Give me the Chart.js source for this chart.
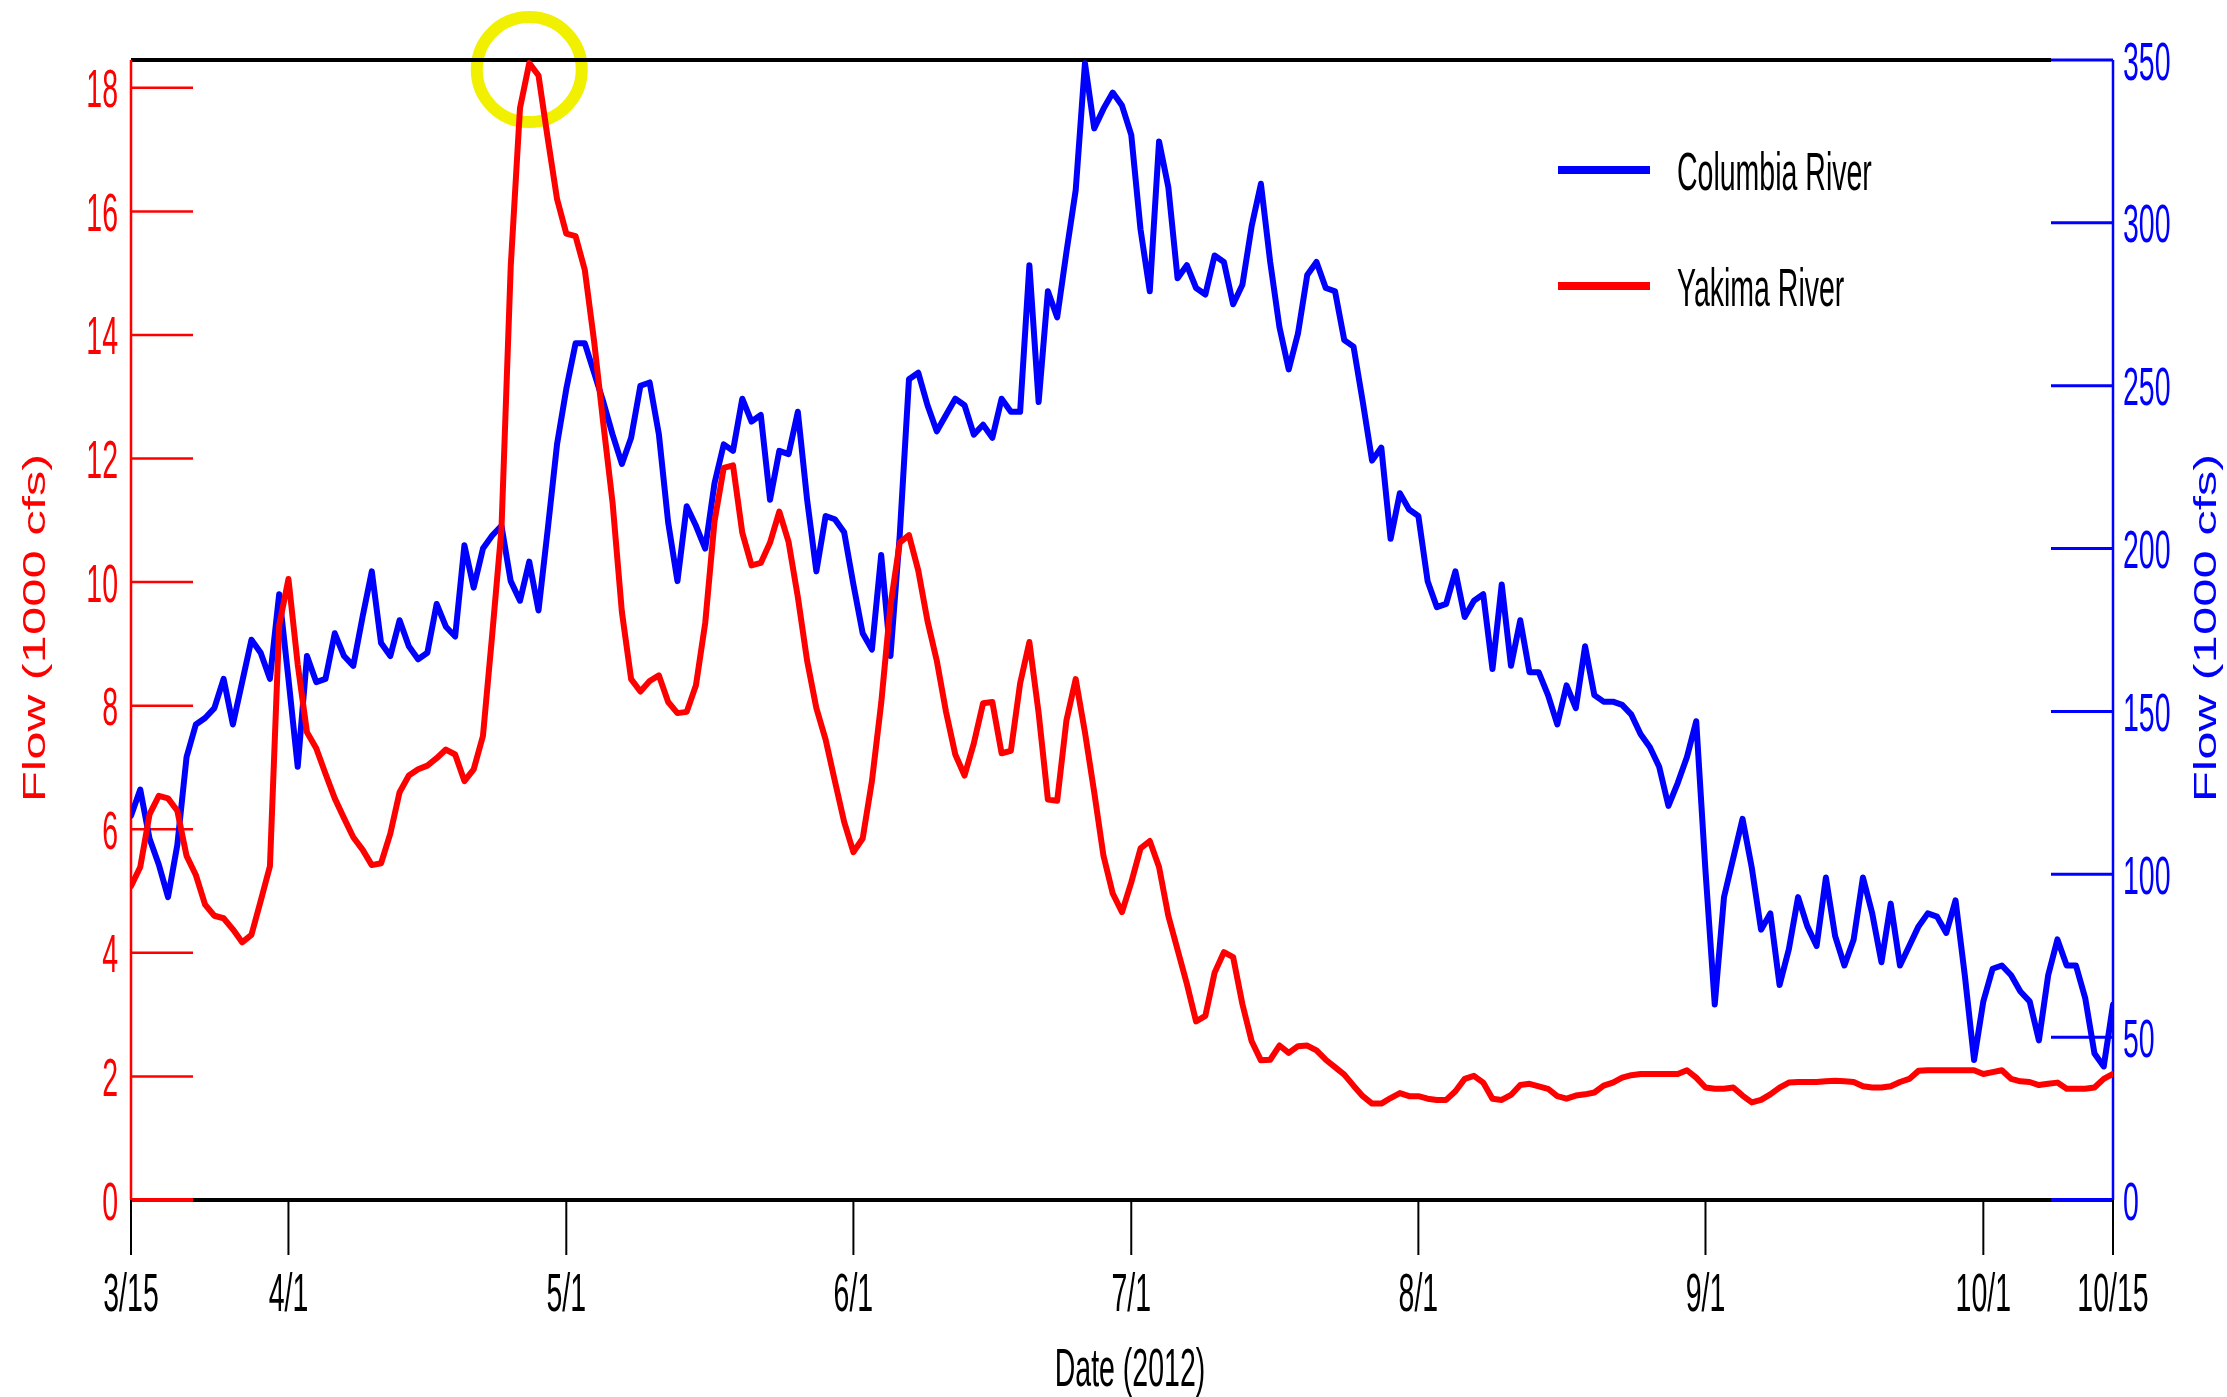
<!DOCTYPE html>
<html>
<head>
<meta charset="utf-8">
<title>Columbia and Yakima River Flow, 2012</title>
<script src="https://cdn.jsdelivr.net/npm/chart.js@4.4.1/dist/chart.umd.min.js"></script>
<style>
  html, body { margin: 0; padding: 0; background: #ffffff; }
  #wrap { width: 2227px; height: 1397px; }
  canvas { display: block; }
</style>
</head>
<body>
<div id="wrap"><canvas id="flow" width="2227" height="1397"></canvas></div>
<script>
// Daily mean flow, 15 March (day 0) to 15 October (day 214) 2012, in 1000 cfs.
const yakimaFlow = [
  5.08, 5.39, 6.24, 6.54, 6.50, 6.30, 5.57, 5.26, 4.78, 4.60,
  4.56, 4.38, 4.17, 4.29, 4.84, 5.40, 9.30, 10.05, 8.67, 7.57,
  7.31, 6.90, 6.50, 6.18, 5.87, 5.67, 5.42, 5.45, 5.93, 6.60,
  6.87, 6.97, 7.03, 7.15, 7.29, 7.21, 6.78, 6.97, 7.51, 9.15,
  10.86, 15.11, 17.67, 18.40, 18.20, 17.18, 16.20, 15.64, 15.60, 15.05,
  13.90, 12.56, 11.28, 9.52, 8.43, 8.23, 8.40, 8.49, 8.06, 7.88,
  7.90, 8.33, 9.34, 10.98, 11.85, 11.89, 10.80, 10.27, 10.31, 10.64,
  11.14, 10.65, 9.76, 8.73, 7.96, 7.45, 6.78, 6.12, 5.63, 5.85,
  6.78, 8.04, 9.62, 10.64, 10.76, 10.19, 9.37, 8.73, 7.90, 7.21,
  6.87, 7.39, 8.04, 8.06, 7.23, 7.27, 8.36, 9.03, 7.88, 6.48,
  6.46, 7.76, 8.43, 7.57, 6.60, 5.57, 4.96, 4.66, 5.14, 5.69,
  5.81, 5.39, 4.60, 4.05, 3.50, 2.89, 2.98, 3.68, 4.01, 3.93,
  3.17, 2.57, 2.26, 2.27, 2.50, 2.38, 2.49, 2.50, 2.42, 2.27,
  2.15, 2.03, 1.85, 1.68, 1.56, 1.56, 1.65, 1.73, 1.68, 1.68,
  1.64, 1.62, 1.62, 1.76, 1.96, 2.01, 1.90, 1.64, 1.62, 1.70,
  1.86, 1.88, 1.84, 1.80, 1.68, 1.64, 1.69, 1.71, 1.74, 1.85,
  1.90, 1.98, 2.02, 2.04, 2.04, 2.04, 2.04, 2.04, 2.10, 1.98,
  1.82, 1.80, 1.80, 1.82, 1.69, 1.58, 1.62, 1.71, 1.82, 1.90,
  1.91, 1.91, 1.91, 1.92, 1.93, 1.92, 1.91, 1.84, 1.82, 1.82,
  1.84, 1.91, 1.96, 2.09, 2.10, 2.10, 2.10, 2.10, 2.10, 2.10,
  2.04, 2.07, 2.10, 1.96, 1.92, 1.91, 1.86, 1.88, 1.90, 1.80,
  1.80, 1.80, 1.82, 1.96, 2.04
];

const columbiaFlow = [
  118, 126, 111, 103, 93, 109, 136, 146, 148, 151,
  160, 146, 159, 172, 168, 160, 186, 160, 133, 167,
  159, 160, 174, 167, 164, 179, 193, 171, 167, 178,
  170, 166, 168, 183, 176, 173, 201, 188, 200, 204,
  207, 190, 184, 196, 181, 206, 232, 249, 263, 263,
  254, 245, 235, 226, 234, 250, 251, 235, 208, 190,
  213, 207, 200, 220, 232, 230, 246, 239, 241, 215,
  230, 229, 242, 215, 193, 210, 209, 205, 189, 174,
  169, 198, 167, 204, 252, 254, 244, 236, 241, 246,
  244, 235, 238, 234, 246, 242, 242, 287, 245, 279,
  271, 291, 310, 349, 329, 335, 340, 336, 327, 298,
  279, 325, 311, 283, 287, 280, 278, 290, 288, 275,
  281, 299, 312, 288, 268, 255, 266, 284, 288, 280,
  279, 264, 262, 245, 227, 231, 203, 217, 212, 210,
  190, 182, 183, 193, 179, 184, 186, 163, 189, 164,
  178, 162, 162, 155, 146, 158, 151, 170, 155, 153,
  153, 152, 149, 143, 139, 133, 121, 128, 136, 147,
  101, 60, 93, 105, 117, 102, 83, 88, 66, 77,
  93, 84, 78, 99, 81, 72, 80, 99, 88, 73,
  91, 72, 78, 84, 88, 87, 82, 92, 69, 43,
  61, 71, 72, 69, 64, 61, 49, 69, 80, 72,
  72, 62, 45, 41, 60
];

// Date axis: day number since 15 March and the label printed under it.
const dateTickDays   = [0, 17, 47, 78, 108, 139, 170, 200, 214];
const dateTickLabels = ['3/15', '4/1', '5/1', '6/1', '7/1', '8/1', '9/1', '10/1', '10/15'];

// Flow axes.
const yakimaTicks   = [0, 2, 4, 6, 8, 10, 12, 14, 16, 18];
const columbiaTicks = [0, 50, 100, 150, 200, 250, 300, 350];

const seriesNames = ['Columbia River', 'Yakima River'];

const RED = '#ff0000';
const BLUE = '#0000ff';
const BLACK = '#000000';

// Text is set in a tall, narrow face: a base size squeezed horizontally.
const FACE = '"Liberation Sans", Arial, Helvetica, sans-serif';
const EM = 30;
const SX = 28.5 / EM;
const SY = 54.5 / EM;
const CAP_HALF = 0.716 * EM * SY / 2;

function drawText(ctx, text, x, baseline, color, align) {
  ctx.save();
  ctx.translate(x, baseline);
  ctx.scale(SX, SY);
  ctx.font = EM + 'px ' + FACE;
  ctx.fillStyle = color;
  ctx.textAlign = align;
  ctx.textBaseline = 'alphabetic';
  ctx.fillText(text, 0, 0);
  ctx.restore();
}

function drawUpText(ctx, text, baselineX, centerY, color) {
  ctx.save();
  ctx.translate(baselineX, centerY);
  ctx.rotate(-Math.PI / 2);
  ctx.scale(51 / EM, 32 / EM);
  ctx.font = EM + 'px ' + FACE;
  ctx.fillStyle = color;
  ctx.textAlign = 'center';
  ctx.textBaseline = 'alphabetic';
  ctx.fillText(text, 0, 0);
  ctx.restore();
}

function seg(ctx, x1, y1, x2, y2, color, width) {
  ctx.save();
  ctx.strokeStyle = color;
  ctx.lineWidth = width;
  ctx.lineCap = 'butt';
  ctx.beginPath();
  ctx.moveTo(x1, y1);
  ctx.lineTo(x2, y2);
  ctx.stroke();
  ctx.restore();
}

const TICK_IN = 62;   // flow ticks point into the plot
const TICK_OUT = 55;  // date ticks hang below the axis

const framePlugin = {
  id: 'flowFrame',
  beforeDraw(chart) {
    const ctx = chart.ctx;
    ctx.save();
    ctx.fillStyle = '#ffffff';
    ctx.fillRect(0, 0, chart.width, chart.height);
    ctx.restore();
  },
  beforeDatasetsDraw(chart) {
    const { ctx, chartArea: a, scales } = chart;
    const xs = scales.x, yl = scales.yYakima, yr = scales.yColumbia;

    // ring marking the Yakima peak
    let peak = 0;
    yakimaFlow.forEach((v, i) => { if (v > yakimaFlow[peak]) peak = i; });
    ctx.save();
    ctx.strokeStyle = '#f0f000';
    ctx.lineWidth = 12;
    ctx.beginPath();
    ctx.arc(xs.getPixelForValue(peak), yl.getPixelForValue(yakimaFlow[peak]) + 6.5, 52.5, 0, Math.PI * 2);
    ctx.stroke();
    ctx.restore();

    // top and bottom frame lines
    seg(ctx, a.left, a.top, a.right - TICK_IN, a.top, BLACK, 4);
    seg(ctx, a.left, a.bottom, a.right, a.bottom, BLACK, 4);

    // side axes
    seg(ctx, a.left, a.top, a.left, a.bottom, RED, 2.5);
    seg(ctx, a.right, a.top, a.right, a.bottom, BLUE, 2.5);

    yakimaTicks.forEach(v => {
      const y = yl.getPixelForValue(v);
      seg(ctx, a.left, y, a.left + TICK_IN, y, RED, v === 0 ? 4 : 2.5);
    });
    columbiaTicks.forEach(v => {
      const y = yr.getPixelForValue(v);
      seg(ctx, a.right - TICK_IN, y, a.right, y, BLUE, v === 0 ? 4 : 3);
    });

    dateTickDays.forEach(d => {
      const x = xs.getPixelForValue(d);
      seg(ctx, x, a.bottom, x, a.bottom + TICK_OUT, BLACK, 2);
    });
  },
  afterDraw(chart) {
    const { ctx, chartArea: a, scales } = chart;
    const xs = scales.x, yl = scales.yYakima, yr = scales.yColumbia;

    yakimaTicks.forEach(v => {
      drawText(ctx, String(v), a.left - 13, yl.getPixelForValue(v) + CAP_HALF, RED, 'right');
    });
    columbiaTicks.forEach(v => {
      drawText(ctx, String(v), a.right + 10, yr.getPixelForValue(v) + CAP_HALF, BLUE, 'left');
    });
    dateTickDays.forEach((d, i) => {
      drawText(ctx, dateTickLabels[i], xs.getPixelForValue(d), a.bottom + 110.5, BLACK, 'center');
    });

    drawText(ctx, 'Date (2012)', (a.left + a.right) / 2 + 8, a.bottom + 186, BLACK, 'center');

    const midY = (a.top + a.bottom) / 2 - 2;
    drawUpText(ctx, 'Flow (1000 cfs)', 45, midY, RED);
    drawUpText(ctx, 'Flow (1000 cfs)', 2216, midY, BLUE);

    // legend
    const legend = [
      { name: seriesNames[0], color: BLUE, y: 170 },
      { name: seriesNames[1], color: RED, y: 286 }
    ];
    legend.forEach(item => {
      seg(ctx, 1558, item.y, 1650, item.y, item.color, 8);
      drawText(ctx, item.name, 1677, item.y + CAP_HALF, BLACK, 'left');
    });
  }
};

const toPoints = values => values.map((v, day) => ({ x: day, y: v }));

new Chart(document.getElementById('flow'), {
  type: 'line',
  data: {
    datasets: [
      {
        label: seriesNames[0],
        data: toPoints(columbiaFlow),
        yAxisID: 'yColumbia',
        borderColor: BLUE,
        borderWidth: 6,
        order: 1
      },
      {
        label: seriesNames[1],
        data: toPoints(yakimaFlow),
        yAxisID: 'yYakima',
        borderColor: RED,
        borderWidth: 6,
        order: 0
      }
    ]
  },
  options: {
    responsive: false,
    animation: false,
    devicePixelRatio: 1,
    layout: { padding: { top: 60, left: 0, right: 0, bottom: 0 } },
    elements: {
      point: { radius: 0, hoverRadius: 0 },
      line: { tension: 0, fill: false, borderJoinStyle: 'round', borderCapStyle: 'round' }
    },
    plugins: {
      legend: { display: false },
      tooltip: { enabled: false },
      title: { display: false }
    },
    scales: {
      x: {
        type: 'linear',
        position: 'bottom',
        min: 0,
        max: 214,
        afterBuildTicks: s => { s.ticks = dateTickDays.map(v => ({ value: v })); },
        afterFit: s => { s.height = 197; },
        ticks: { display: false },
        grid: { display: false },
        border: { display: false }
      },
      yYakima: {
        type: 'linear',
        position: 'left',
        min: 0,
        max: 18.45,
        afterBuildTicks: s => { s.ticks = yakimaTicks.map(v => ({ value: v })); },
        afterFit: s => { s.width = 131; },
        ticks: { display: false },
        grid: { display: false },
        border: { display: false }
      },
      yColumbia: {
        type: 'linear',
        position: 'right',
        min: 0,
        max: 350,
        afterBuildTicks: s => { s.ticks = columbiaTicks.map(v => ({ value: v })); },
        afterFit: s => { s.width = 114; },
        ticks: { display: false },
        grid: { display: false },
        border: { display: false }
      }
    }
  },
  plugins: [framePlugin]
});
</script>
</body>
</html>
